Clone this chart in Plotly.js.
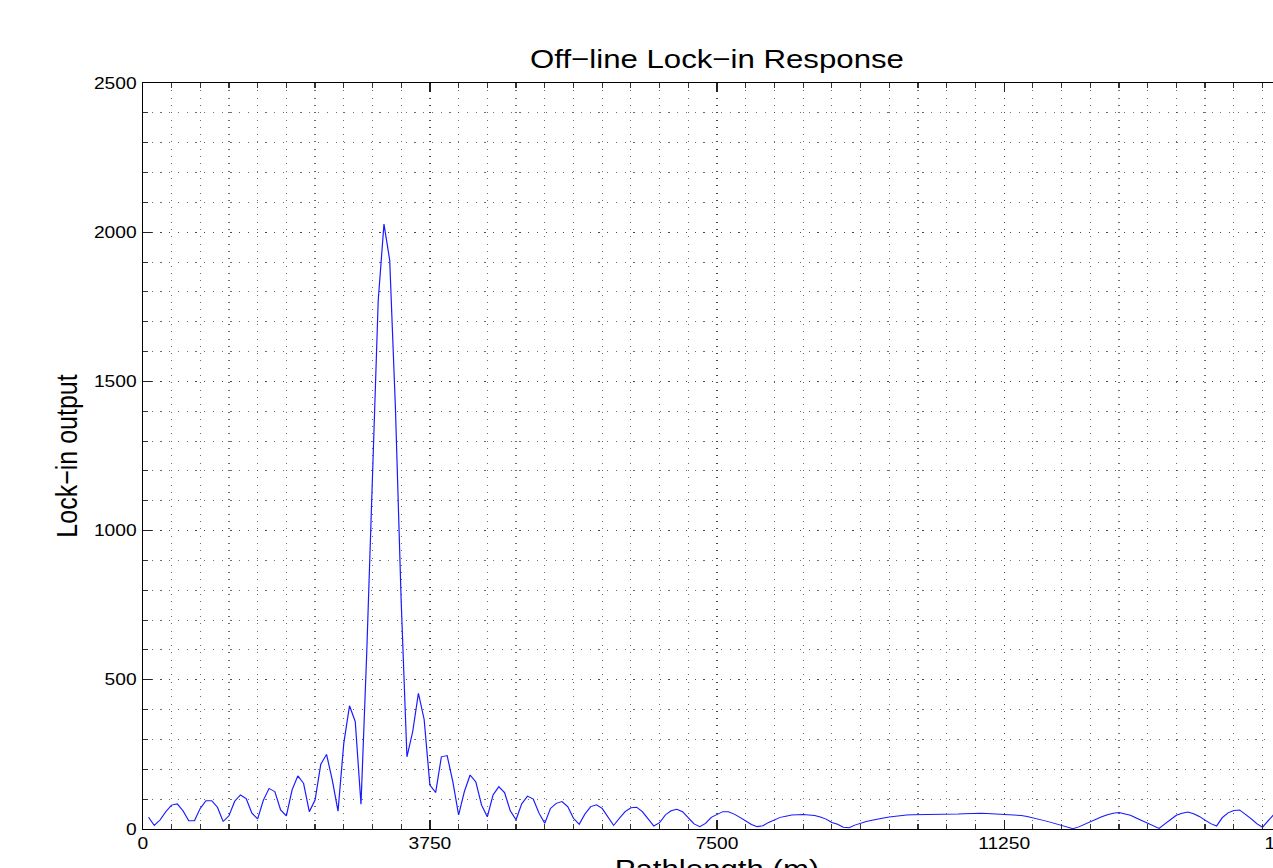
<!DOCTYPE html>
<html>
<head>
<meta charset="utf-8">
<script src="https://cdn.plot.ly/plotly-3.0.1.min.js"></script>
<style>
  html, body { margin: 0; padding: 0; background: #ffffff; overflow: hidden; width: 1273px; height: 868px; }
  #plot { width: 1150px; height: 900px; transform: scaleX(1.2); transform-origin: 0 0; }
</style>
</head>
<body>
<div id="plot"></div>
<script>
// Pathlength (m) sample positions
const pathlength = [
  75,150,225,300,375,450,525,600,675,750,
  825,900,975,1050,1125,1200,1275,1350,1425,1500,
  1575,1650,1725,1800,1875,1950,2025,2100,2175,2250,
  2325,2400,2475,2550,2625,2700,2775,2850,2925,3000,
  3075,3150,3225,3300,3375,3450,3525,3600,3675,3750,
  3825,3900,3975,4050,4125,4200,4275,4350,4425,4500,
  4575,4650,4725,4800,4875,4950,5025,5100,5175,5250,
  5325,5400,5475,5550,5625,5700,5775,5850,5925,6000,
  6075,6150,6225,6300,6375,6450,6525,6600,6675,6750,
  6825,6900,6975,7050,7125,7200,7275,7350,7425,7500,
  7575,7650,7725,7800,7875,7950,8025,8100,8175,8250,
  8325,8400,8475,8550,8625,8700,8775,8850,8925,9000,
  9075,9150,9225,9300,9375,9450,9525,9600,9675,9750,
  9825,9900,9975,10050,10125,10200,10275,10350,10425,10500,
  10575,10650,10725,10800,10875,10950,11025,11100,11175,11250,
  11325,11400,11475,11550,11625,11700,11775,11850,11925,12000,
  12075,12150,12225,12300,12375,12450,12525,12600,12675,12750,
  12825,12900,12975,13050,13125,13200,13275,13350,13425,13500,
  13575,13650,13725,13800,13875,13950,14025,14100,14175,14250,
  14325,14400,14475,14550,14625,14700,14775,14850,14925,15000
];

// Lock-in output values
const lockinOutput = [
  39,12,30,58,80,84,61,28,28,69,
  95,95,73,25,44,93,114,102,53,34,
  97,136,125,64,44,131,178,153,58,97,
  217,250,164,60,287,413,360,83,590,1166,
  1771,2027,1906,1408,762,242,326,455,367,147,
  122,242,246,158,47,125,181,158,80,41,
  114,142,122,61,31,85,110,100,53,19,
  69,86,92,75,36,16,50,75,81,69,
  41,12,36,58,71,73,58,34,10,21,
  47,61,66,58,39,17,8,19,39,50,
  58,58,50,39,27,15,8,11,22,31,
  39,43,47,48,49,47,45,40,33,22,
  16,6,4,13,20,25,29,34,37,40,
  43,45,47,48,48,48,48,49,49,49,
  50,50,51,52,53,53,52,51,51,50,
  48,47,45,42,38,33,28,23,17,11,
  6,1,7,16,25,33,41,48,53,55,
  51,46,37,28,20,10,2,17,32,46,
  53,57,51,42,30,18,10,38,54,62,
  64,50,35,18,6,28,49,60,63,58
];

const xTickVals = [0, 3750, 7500, 11250, 15000];
const xTickText = ['0', '3750', '7500', '11250', '15000'];
const yTickVals = [0, 500, 1000, 1500, 2000, 2500];
const yTickText = ['0', '500', '1000', '1500', '2000', '2500'];

const titleText = 'Off\u2212line Lock\u2212in Response';
const xTitleText = 'Pathlength (m)';
const yTitleText = 'Lock\u2212in output';

const FONT = 'Liberation Sans, Arial, Helvetica, sans-serif';
const GRID = 'rgba(60,60,60,0.75)';
const DOTS = '1px,6.3px';

const trace = {
  x: pathlength,
  y: lockinOutput,
  type: 'scatter',
  mode: 'lines',
  line: { color: '#1a1aff', width: 1 },
  hoverinfo: 'x+y'
};

const layout = {
  width: 1150,
  height: 900,
  margin: { l: 119.17, r: 74.17, t: 83, b: 71, pad: 0 },
  paper_bgcolor: '#ffffff',
  plot_bgcolor: '#ffffff',
  showlegend: false,
  font: { family: FONT, color: '#000000', size: 16 },
  title: {
    text: titleText,
    font: { family: FONT, size: 26, color: '#000000' },
    x: 0.5, xref: 'paper', xanchor: 'center',
    y: 1 - 59 / 900, yref: 'container', yanchor: 'middle'
  },
  xaxis: {
    range: [0, 15000],
    tickmode: 'array',
    tickvals: xTickVals,
    ticktext: xTickText,
    ticks: 'inside',
    ticklen: 9,
    tickwidth: 1,
    tickcolor: '#222',
    showline: true,
    linecolor: '#000',
    linewidth: 1,
    mirror: 'ticks',
    zeroline: false,
    showgrid: true,
    gridcolor: GRID,
    gridwidth: 1,
    griddash: DOTS,
    tickfont: { family: FONT, size: 16, color: '#000' },
    ticklabelstandoff: 0,
    minor: {
      dtick: 375, tick0: 0,
      ticks: 'inside', ticklen: 5, tickwidth: 1, tickcolor: '#333',
      showgrid: true, gridcolor: GRID, gridwidth: 1, griddash: DOTS
    },
    title: {
      text: xTitleText,
      font: { family: FONT, size: 26, color: '#000' },
      standoff: 8
    }
  },
  yaxis: {
    range: [0, 2500],
    tickmode: 'array',
    tickvals: yTickVals,
    ticktext: yTickText,
    ticks: 'inside',
    ticklen: 8,
    tickwidth: 1,
    tickcolor: '#222',
    showline: true,
    linecolor: '#000',
    linewidth: 1,
    mirror: 'ticks',
    zeroline: false,
    showgrid: true,
    gridcolor: GRID,
    gridwidth: 1,
    griddash: DOTS,
    tickfont: { family: FONT, size: 16, color: '#000' },
    ticklabelstandoff: 1,
    minor: {
      dtick: 100, tick0: 0,
      ticks: 'inside', ticklen: 4, tickwidth: 1, tickcolor: '#333',
      showgrid: true, gridcolor: GRID, gridwidth: 1, griddash: DOTS
    },
    title: {
      text: yTitleText,
      font: { family: FONT, size: 25, color: '#000' },
      standoff: 6
    }
  }
};

Plotly.newPlot('plot', [trace], layout, { displayModeBar: false, staticPlot: true });
</script>
</body>
</html>
